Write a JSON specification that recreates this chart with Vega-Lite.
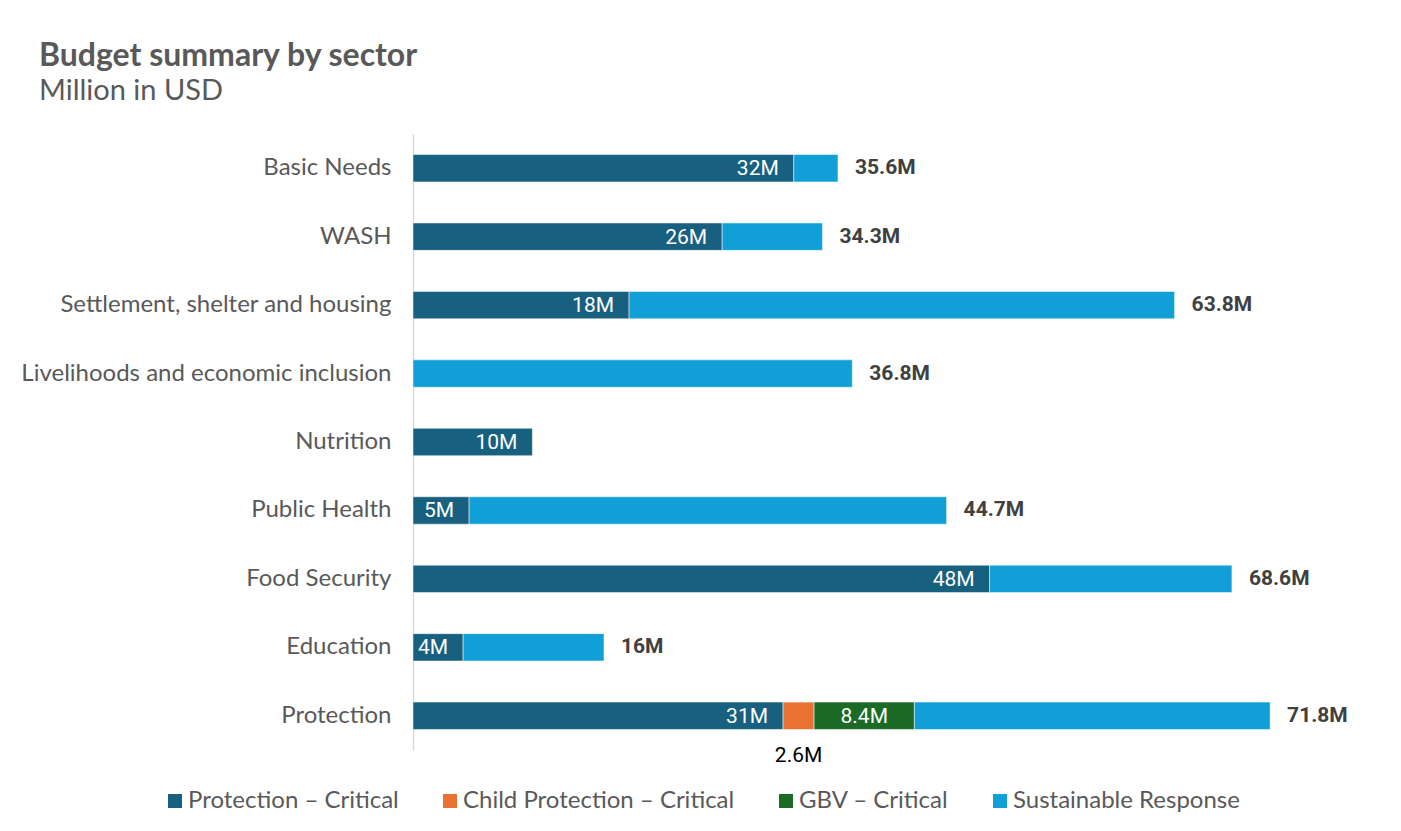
{
  "$schema": "https://vega.github.io/schema/vega-lite/v6.json",
  "autosize": {"type": "none"},
  "width": 955,
  "height": 616,
  "padding": {"left": 413, "top": 134, "right": 33, "bottom": 81},
  "background": "white",
  "config": {
    "font": "Lato",
    "view": {"stroke": null}
  },
  "title": {
    "text": "Budget summary by sector",
    "subtitle": "Million in USD",
    "anchor": "start",
    "frame": "group",
    "dx": -374,
    "offset": 27,
    "font": "Lato",
    "fontSize": 32,
    "fontWeight": "bold",
    "color": "#595959",
    "subtitleFont": "Lato",
    "subtitleFontSize": 29,
    "subtitleColor": "#595959",
    "subtitlePadding": 4
  },
  "datasets": {
    "segments": [
      {"sector": "Basic Needs", "category": "Protection – Critical", "value": 31.9, "label": "32M"},
      {"sector": "Basic Needs", "category": "Sustainable Response", "value": 3.7, "label": ""},
      {"sector": "WASH", "category": "Protection – Critical", "value": 25.9, "label": "26M"},
      {"sector": "WASH", "category": "Sustainable Response", "value": 8.4, "label": ""},
      {"sector": "Settlement, shelter and housing", "category": "Protection – Critical", "value": 18.1, "label": "18M"},
      {"sector": "Settlement, shelter and housing", "category": "Sustainable Response", "value": 45.7, "label": ""},
      {"sector": "Livelihoods and economic inclusion", "category": "Sustainable Response", "value": 36.8, "label": ""},
      {"sector": "Nutrition", "category": "Protection – Critical", "value": 10.0, "label": "10M"},
      {"sector": "Public Health", "category": "Protection – Critical", "value": 4.7, "label": "5M"},
      {"sector": "Public Health", "category": "Sustainable Response", "value": 40.0, "label": ""},
      {"sector": "Food Security", "category": "Protection – Critical", "value": 48.3, "label": "48M"},
      {"sector": "Food Security", "category": "Sustainable Response", "value": 20.3, "label": ""},
      {"sector": "Education", "category": "Protection – Critical", "value": 4.2, "label": "4M"},
      {"sector": "Education", "category": "Sustainable Response", "value": 11.8, "label": ""},
      {"sector": "Protection", "category": "Protection – Critical", "value": 31.0, "label": "31M"},
      {"sector": "Protection", "category": "Child Protection – Critical", "value": 2.6, "label": "2.6M"},
      {"sector": "Protection", "category": "GBV – Critical", "value": 8.4, "label": "8.4M"},
      {"sector": "Protection", "category": "Sustainable Response", "value": 29.8, "label": ""}
    ],
    "totals": [
      {"sector": "Basic Needs", "total": 35.6, "label": "35.6M"},
      {"sector": "WASH", "total": 34.3, "label": "34.3M"},
      {"sector": "Settlement, shelter and housing", "total": 63.8, "label": "63.8M"},
      {"sector": "Livelihoods and economic inclusion", "total": 36.8, "label": "36.8M"},
      {"sector": "Public Health", "total": 44.7, "label": "44.7M"},
      {"sector": "Food Security", "total": 68.6, "label": "68.6M"},
      {"sector": "Education", "total": 16, "label": "16M"},
      {"sector": "Protection", "total": 71.8, "label": "71.8M"}
    ]
  },
  "encoding": {
    "y": {
      "field": "sector",
      "type": "nominal",
      "sort": ["Basic Needs", "WASH", "Settlement, shelter and housing", "Livelihoods and economic inclusion", "Nutrition", "Public Health", "Food Security", "Education", "Protection"],
      "scale": {"paddingInner": 0.6, "paddingOuter": 0.3},
      "axis": {
        "title": null,
        "ticks": false,
        "domainColor": "#d9d9d9",
        "domainWidth": 1.5,
        "labelFont": "Lato",
        "labelFontSize": 24,
        "labelColor": "#595959",
        "labelPadding": 22,
        "labelLimit": 500
      }
    }
  },
  "layer": [
    {
      "data": {"name": "segments"},
      "transform": [
        {"calculate": "indexof(['Protection – Critical','Child Protection – Critical','GBV – Critical','Sustainable Response'], datum.category)", "as": "k"},
        {"stack": "value", "groupby": ["sector"], "sort": [{"field": "k"}], "as": ["v0", "v1"]}
      ],
      "mark": {"type": "bar", "stroke": "white", "strokeWidth": 0.5},
      "encoding": {
        "x": {"field": "v0", "type": "quantitative", "scale": {"domain": [0, 80]}, "axis": null},
        "x2": {"field": "v1"},
        "color": {
          "field": "category",
          "type": "nominal",
          "scale": {
            "domain": ["Protection – Critical", "Child Protection – Critical", "GBV – Critical", "Sustainable Response"],
            "range": ["#17607f", "#e97232", "#1b6b26", "#109fd6"]
          },
          "legend": {
            "title": null,
            "orient": "none",
            "direction": "horizontal",
            "legendX": -250,
            "legendY": 655,
            "symbolType": "square",
            "symbolSize": 196,
            "symbolStrokeWidth": 0,
            "labelFont": "Lato",
            "labelFontSize": 24,
            "labelColor": "#595959",
            "labelOffset": 1,
            "columnPadding": 39,
            "labelLimit": 400
          }
        }
      }
    },
    {
      "data": {"name": "segments"},
      "transform": [
        {"calculate": "indexof(['Protection – Critical','Child Protection – Critical','GBV – Critical','Sustainable Response'], datum.category)", "as": "k"},
        {"stack": "value", "groupby": ["sector"], "sort": [{"field": "k"}], "as": ["v0", "v1"]},
        {"filter": "datum.category === 'Protection – Critical'"}
      ],
      "mark": {"type": "text", "align": "right", "baseline": "middle", "dx": -15, "dy": 1, "color": "white", "font": "Liberation Sans Narrow, Roboto", "fontSize": 21},
      "encoding": {
        "x": {"field": "v1", "type": "quantitative"},
        "text": {"field": "label"}
      }
    },
    {
      "data": {"name": "segments"},
      "transform": [
        {"calculate": "indexof(['Protection – Critical','Child Protection – Critical','GBV – Critical','Sustainable Response'], datum.category)", "as": "k"},
        {"stack": "value", "groupby": ["sector"], "sort": [{"field": "k"}], "as": ["v0", "v1"]},
        {"filter": "datum.category === 'GBV – Critical'"},
        {"calculate": "(datum.v0 + datum.v1) / 2", "as": "mid"}
      ],
      "mark": {"type": "text", "align": "center", "baseline": "middle", "dy": 1, "color": "white", "font": "Liberation Sans Narrow, Roboto", "fontSize": 21},
      "encoding": {
        "x": {"field": "mid", "type": "quantitative"},
        "text": {"field": "label"}
      }
    },
    {
      "data": {"name": "segments"},
      "transform": [
        {"calculate": "indexof(['Protection – Critical','Child Protection – Critical','GBV – Critical','Sustainable Response'], datum.category)", "as": "k"},
        {"stack": "value", "groupby": ["sector"], "sort": [{"field": "k"}], "as": ["v0", "v1"]},
        {"filter": "datum.category === 'Child Protection – Critical'"},
        {"calculate": "(datum.v0 + datum.v1) / 2", "as": "mid"}
      ],
      "mark": {"type": "text", "align": "center", "baseline": "middle", "dy": 40, "color": "#000000", "font": "Liberation Sans Narrow, Roboto", "fontSize": 21},
      "encoding": {
        "x": {"field": "mid", "type": "quantitative"},
        "text": {"field": "label"}
      }
    },
    {
      "data": {"name": "totals"},
      "mark": {"type": "text", "align": "left", "baseline": "middle", "dx": 17, "color": "#404040", "fontWeight": "bold", "font": "Liberation Sans Narrow, Roboto", "fontSize": 21},
      "encoding": {
        "x": {"field": "total", "type": "quantitative"},
        "text": {"field": "label"}
      }
    }
  ]
}
